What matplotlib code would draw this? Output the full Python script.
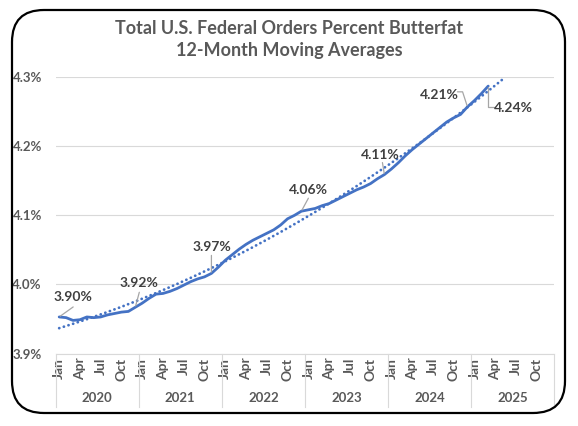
import numpy as np
import matplotlib
matplotlib.use("Agg")
import matplotlib.pyplot as plt
from matplotlib.patches import FancyBboxPatch
from matplotlib.transforms import IdentityTransform

plt.rcParams['font.family'] = ['Lato', 'DejaVu Sans']

# monthly 12-month moving average of butterfat %, Jan 2020 .. Mar 2025
butterfat = [
    3.903, 3.902, 3.898, 3.899, 3.903, 3.902, 3.903, 3.906, 3.908, 3.910, 3.911, 3.917,
    3.923, 3.930, 3.936, 3.937, 3.940, 3.944, 3.949, 3.954, 3.958, 3.961, 3.966, 3.975,
    3.985, 3.993, 4.001, 4.008, 4.014, 4.019, 4.024, 4.029, 4.036, 4.045, 4.050, 4.056,
    4.058, 4.060, 4.064, 4.067, 4.072, 4.077, 4.082, 4.087, 4.091, 4.096, 4.103, 4.109,
    4.117, 4.126, 4.136, 4.145, 4.153, 4.161, 4.169, 4.177, 4.185, 4.191, 4.196, 4.207,
    4.216, 4.226, 4.237,
]
years = ['2020', '2021', '2022', '2023', '2024', '2025']
month_ticks = ['Jan', 'Apr', 'Jul', 'Oct']
ytick_vals = [3.85, 3.95, 4.05, 4.15, 4.25]
ytick_text = ['3.9%', '4.0%', '4.1%', '4.2%', '4.3%']
label_idx = [0, 11, 22, 35, 47, 59, 62]
label_text = ['3.90%', '3.92%', '3.97%', '4.06%', '4.11%', '4.21%', '4.24%']

blue = '#4472C4'
grey_txt = '#595959'
dark_txt = '#404040'

fig = plt.figure(figsize=(5.78, 4.26), dpi=100)
ax = fig.add_axes([0.0964, 0.170, 0.862, 0.649])

x = np.arange(len(butterfat))
ax.plot(x, butterfat, color=blue, lw=2.0, solid_capstyle='round', zorder=3)

# polynomial (order 2) trendline, forecast 2 periods forward
coef = np.polyfit(x, butterfat, 2)
xt = np.linspace(0, len(butterfat) + 1, 300)
ax.plot(xt, np.polyval(coef, xt), color=blue, lw=2, ls=(0, (0.05, 1.7)),
        dash_capstyle='round', clip_on=False, zorder=2)

n_months = 12 * len(years)
ax.set_xlim(-0.5, n_months - 0.5)
ax.set_ylim(3.85, 4.25)

ax.set_yticks(ytick_vals)
ax.set_yticklabels(ytick_text)
ax.grid(axis='y', color='#d9d9d9', lw=0.8)
ax.set_axisbelow(True)
for s in ['top', 'right', 'left']:
    ax.spines[s].set_visible(False)
ax.spines['bottom'].set_color('#d9d9d9')
ax.spines['bottom'].set_linewidth(0.8)

xticks = [12 * k + m for k in range(len(years)) for m in (0, 3, 6, 9)]
ax.set_xticks(xticks)
ax.set_xticklabels(month_ticks * len(years), rotation=90)
ax.tick_params(axis='both', length=0, labelcolor=grey_txt)
ax.tick_params(axis='x', pad=3, labelsize=10)
ax.tick_params(axis='y', pad=10, labelsize=9.5)
for t in ax.get_xticklabels() + ax.get_yticklabels():
    t.set_fontweight('bold')

# year level of the category axis
tr = ax.get_xaxis_transform()
for k in range(len(years) + 1):
    ax.plot([12 * k - 0.5] * 2, [0, -0.193], transform=tr, color='#d9d9d9',
            lw=0.8, clip_on=False)
for k, yr in enumerate(years):
    ax.text(12 * k + 5.5, -0.16, yr, transform=tr, ha='center', va='center',
            fontsize=9.5, fontweight='bold', color=grey_txt)

# data labels with leader lines (offsets in pixels)
text_off = [(14, 20), (4, 24), (0, 26), (7, 21), (-4, 20), (-28, 12), (25, -22)]
lead_off = [(14, 10), (4, 15), (0, 18), (7, 13), (-2, 12), (-10, 15), (6, -21)]
conn = ['arc3', 'arc3', 'arc3', 'arc3', 'arc3',
        'angle,angleA=0,angleB=108,rad=0', 'angle,angleA=0,angleB=90,rad=0']
for i, txt, to, lo, cs in zip(label_idx, label_text, text_off, lead_off, conn):
    pt = (x[i], butterfat[i])
    ax.annotate('', xy=pt, xytext=lo, textcoords='offset pixels',
                arrowprops=dict(arrowstyle='-', color='#a6a6a6', lw=0.9,
                                shrinkA=0, shrinkB=1, connectionstyle=cs),
                annotation_clip=False)
    ax.annotate(txt, xy=pt, xytext=to, textcoords='offset pixels',
                ha='center', va='center', fontsize=10, fontweight='bold',
                color=dark_txt, annotation_clip=False)

fig.text(0.5, 0.932, 'Total U.S. Federal Orders Percent Butterfat',
         ha='center', va='center', fontsize=13, fontweight='bold', color=grey_txt)
fig.text(0.5, 0.882, '12-Month Moving Averages',
         ha='center', va='center', fontsize=13, fontweight='bold', color=grey_txt)

# rounded chart border
border = FancyBboxPatch((12, 13), 553, 403, boxstyle='round,pad=0,rounding_size=32',
                        transform=IdentityTransform(), fill=False,
                        edgecolor='black', lw=1.6)
fig.patches.append(border)

fig.savefig('out.png', dpi=100)
